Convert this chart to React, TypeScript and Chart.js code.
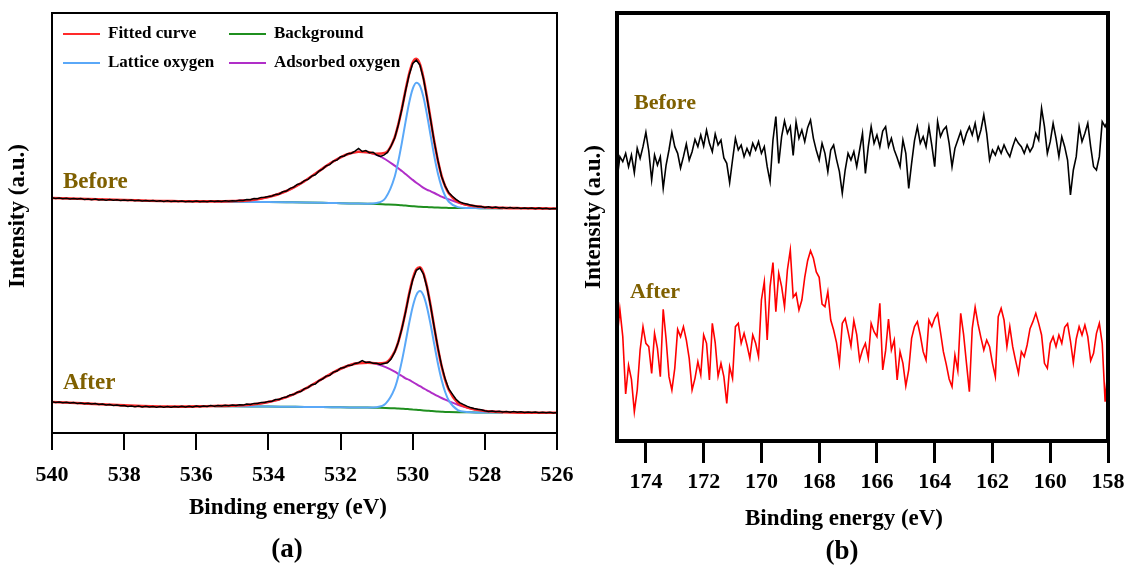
import React, { useEffect, useRef } from "react";
import { Chart, registerables } from "chart.js";

Chart.register(...registerables);

const SERIF = "'Liberation Serif', 'Times New Roman', serif";
const BROWN = "#7f6000";

// ---------- Panel (a): O 1s ----------
const A_TICKS = [540, 538, 536, 534, 532, 530, 528, 526];

const A_DATA_EV = [
  540.0, 539.9, 539.8, 539.7, 539.6, 539.5, 539.4, 539.3, 539.2, 539.1,
  539.0, 538.9, 538.8, 538.7, 538.6, 538.5, 538.4, 538.3, 538.2, 538.1,
  538.0, 537.9, 537.8, 537.7, 537.6, 537.5, 537.4, 537.3, 537.2, 537.1,
  537.0, 536.9, 536.8, 536.7, 536.6, 536.5, 536.4, 536.3, 536.2, 536.1,
  536.0, 535.9, 535.8, 535.7, 535.6, 535.5, 535.4, 535.3, 535.2, 535.1,
  535.0, 534.9, 534.8, 534.7, 534.6, 534.5, 534.4, 534.3, 534.2, 534.1,
  534.0, 533.9, 533.8, 533.7, 533.6, 533.5, 533.4, 533.3, 533.2, 533.1,
  533.0, 532.9, 532.8, 532.7, 532.6, 532.5, 532.4, 532.3, 532.2, 532.1,
  532.0, 531.9, 531.8, 531.7, 531.6, 531.5, 531.4, 531.3, 531.2, 531.1,
  531.0, 530.9, 530.8, 530.7, 530.6, 530.5, 530.4, 530.3, 530.2, 530.1,
  530.0, 529.9, 529.8, 529.7, 529.6, 529.5, 529.4, 529.3, 529.2, 529.1,
  529.0, 528.9, 528.8, 528.7, 528.6, 528.5, 528.4, 528.3, 528.2, 528.1,
  528.0, 527.9, 527.8, 527.7, 527.6, 527.5, 527.4, 527.3, 527.2, 527.1,
  527.0, 526.9, 526.8, 526.7, 526.6, 526.5, 526.4, 526.3, 526.2, 526.1,
  526.0,
];

const A_BEFORE_RAW = [
  235.2, 234.6, 235.1, 234.3, 234.8, 234.0, 234.5, 233.9, 234.4, 233.6,
  234.1, 233.3, 233.9, 233.0, 233.6, 232.8, 233.4, 232.7, 233.2, 232.5,
  233.0, 232.4, 232.9, 232.2, 232.7, 232.0, 232.6, 231.9, 232.4, 231.8,
  232.3, 231.6, 232.2, 231.5, 232.0, 231.4, 231.9, 231.2, 231.8, 231.3,
  231.9, 231.2, 231.8, 231.3, 232.0, 231.4, 232.1, 231.5, 232.2, 231.7,
  232.3, 232.0, 232.8, 232.6, 233.5, 233.2, 234.4, 234.3, 235.6, 235.7,
  236.6, 237.0, 238.6, 239.0, 241.2, 242.0, 244.6, 245.8, 248.5, 249.6,
  252.4, 253.6, 256.9, 258.2, 261.8, 263.9, 267.1, 268.4, 271.9, 273.0,
  276.2, 277.0, 279.3, 279.8, 281.9, 284.6, 281.5, 282.4, 280.3, 280.8,
  278.0, 276.5, 277.9, 280.6, 287.0, 295.0, 308.0, 324.0, 342.0, 358.0,
  369.5, 372.8, 367.9, 354.0, 334.2, 312.4, 290.6, 272.3, 256.5, 246.9,
  240.3, 236.8, 233.6, 231.1, 229.8, 228.9, 228.0, 227.3, 226.6, 226.4,
  225.6, 226.2, 225.3, 225.9, 225.1, 225.6, 224.8, 225.4, 224.7, 225.2,
  224.6, 225.1, 224.4, 225.0, 224.3, 224.9, 224.2, 224.7, 224.1, 224.6,
  224.3,
];

const A_AFTER_RAW = [
  31.2, 30.5, 31.0, 30.2, 30.7, 29.9, 30.4, 29.6, 30.1, 29.3,
  29.8, 29.0, 29.4, 28.5, 29.0, 28.1, 28.4, 27.6, 28.0, 27.2,
  27.5, 26.6, 27.1, 26.3, 26.9, 26.0, 26.7, 25.9, 26.5, 25.8,
  26.4, 25.7, 26.5, 25.8, 26.6, 25.9, 26.7, 26.0, 26.8, 26.1,
  26.9, 26.3, 27.1, 26.5, 27.4, 26.7, 27.6, 26.9, 27.8, 27.2,
  27.9, 27.5, 28.3, 27.9, 28.9, 28.6, 29.6, 29.5, 30.6, 30.5,
  31.6, 31.8, 33.4, 33.6, 35.4, 36.0, 38.1, 38.4, 40.8, 41.5,
  44.4, 45.4, 48.3, 49.0, 52.4, 54.0, 56.9, 57.6, 60.9, 62.0,
  64.8, 65.4, 67.6, 67.7, 69.6, 70.3, 72.4, 70.6, 71.0, 69.7,
  69.8, 68.6, 69.5, 70.2, 74.0, 80.9, 90.8, 104.4, 120.6, 138.3,
  153.2, 162.7, 164.9, 158.8, 145.0, 126.1, 105.0, 84.9, 67.4, 53.9,
  44.0, 38.9, 33.8, 30.4, 28.6, 26.9, 25.4, 24.5, 23.8, 23.2,
  22.3, 21.5, 22.1, 21.2, 21.8, 21.0, 21.6, 20.8, 21.4, 20.7,
  21.2, 20.5, 21.0, 20.4, 20.9, 20.3, 20.8, 20.2, 20.7, 20.1,
  20.5,
];

// energies of the fitted components (peak region)
const A_COMP_EV = [
  535.5, 535.0, 534.5, 534.0, 533.5, 533.0, 532.5, 532.25, 532.0, 531.75,
  531.5, 531.25, 531.0, 530.75, 530.5, 530.4, 530.3, 530.2, 530.1, 530.0,
  529.9, 529.8, 529.7, 529.6, 529.5, 529.4, 529.3, 529.2, 529.1, 529.0,
  528.75, 528.5, 528.25, 528.0, 527.5,
];
// energies of the full fitted envelope
const A_FIT_EV = [
  540.0, 539.5, 539.0, 538.5, 538.0, 537.5, 537.0, 536.5, 536.0,
  535.5, 535.0, 534.5, 534.0, 533.5, 533.0, 532.5, 532.25, 532.0, 531.75,
  531.5, 531.25, 531.0, 530.75, 530.5, 530.4, 530.3, 530.2, 530.1, 530.0,
  529.9, 529.8, 529.7, 529.6, 529.5, 529.4, 529.3, 529.2, 529.1, 529.0,
  528.75, 528.5, 528.25, 528.0, 527.5,
  527.0, 526.5, 526.0,
];

const A_BEFORE_FIT = [
  235.0, 234.5, 234.0, 233.5, 233.0, 232.5, 232.0, 231.8, 231.6,
  231.6, 231.9, 232.9, 235.9, 242.0, 251.9, 264.4, 270.5, 275.7, 279.4,
  281.2, 280.9, 279.2, 280.2, 295.5, 308.5, 324.6, 342.4, 358.9, 370.4,
  374.1, 368.7, 354.6, 334.8, 312.7, 290.9, 272.0, 257.1, 246.7, 239.8,
  231.4, 228.2, 226.7, 225.8, 225.1,
  224.8, 224.6, 224.5,
];
const A_BEFORE_BG = [
  231.5, 231.3, 231.1, 230.9, 230.7, 230.5, 230.2, 230.0, 229.8, 229.6,
  229.4, 229.2, 229.0, 228.6, 228.2, 228.0, 227.7, 227.4, 227.1, 226.8,
  226.5, 226.3, 226.1, 225.9, 225.7, 225.5, 225.4, 225.3, 225.2, 225.1,
  225.0, 224.9, 224.9, 224.8, 224.8,
];
const A_BEFORE_LATTICE = [
  231.5, 231.3, 231.1, 230.9, 230.7, 230.5, 230.2, 230.0, 229.8, 229.6,
  229.4, 229.3, 230.0, 235.3, 256.3, 271.7, 290.4, 310.9, 330.0, 344.1,
  350.3, 347.3, 335.5, 317.5, 296.7, 276.4, 259.2, 246.1, 237.0, 231.3,
  225.9, 225.0, 224.9, 224.8, 224.8,
];
const A_BEFORE_ADSORBED = [
  231.6, 231.9, 232.9, 235.9, 242.0, 251.9, 264.4, 270.5, 275.7, 279.4,
  281.2, 280.8, 278.2, 273.5, 267.4, 264.8, 261.9, 258.9, 256.0, 253.1,
  250.3, 247.7, 245.2, 243.2, 241.7, 240.0, 238.2, 236.3, 234.9, 233.6,
  230.5, 228.1, 226.7, 225.8, 225.1,
];

const A_AFTER_FIT = [
  31.0, 30.2, 29.4, 28.5, 27.6, 26.9, 26.5, 26.4, 26.6,
  27.0, 27.3, 28.3, 30.9, 35.9, 43.9, 54.3, 59.5, 64.2, 67.8,
  69.9, 70.4, 69.5, 70.2, 81.3, 91.2, 104.8, 121.1, 138.9, 153.8,
  163.5, 165.8, 159.4, 145.4, 126.4, 105.1, 84.6, 67.0, 53.2, 43.3,
  30.3, 25.7, 23.4, 22.0, 20.9,
  20.4, 20.3, 20.2,
];
const A_AFTER_BG = [
  26.8, 26.7, 26.6, 26.5, 26.3, 26.1, 25.9, 25.8, 25.7, 25.6,
  25.5, 25.4, 25.2, 25.0, 24.7, 24.5, 24.3, 24.1, 23.8, 23.5,
  23.2, 22.9, 22.6, 22.3, 22.0, 21.7, 21.5, 21.3, 21.1, 21.0,
  20.8, 20.7, 20.6, 20.6, 20.5,
];
const A_AFTER_LATTICE = [
  26.8, 26.7, 26.6, 26.5, 26.3, 26.1, 25.9, 25.8, 25.7, 25.6,
  25.5, 25.4, 25.8, 29.4, 44.6, 56.5, 72.1, 90.5, 109.5, 126.3,
  137.9, 141.9, 137.3, 125.1, 107.7, 88.1, 69.3, 53.3, 41.0, 32.5,
  22.9, 21.0, 20.6, 20.6, 20.5,
];
const A_AFTER_ADSORBED = [
  27.0, 27.3, 28.3, 30.9, 35.9, 43.9, 54.3, 59.5, 64.2, 67.8,
  69.9, 70.4, 68.9, 65.8, 61.4, 59.2, 57.0, 54.7, 53.2, 51.0,
  48.8, 46.8, 44.7, 42.6, 40.7, 38.7, 36.8, 35.0, 33.3, 31.8,
  28.2, 25.4, 23.4, 22.0, 20.9,
];

// ---------- Panel (b): S 2p ----------
const B_TICKS = [174, 172, 170, 168, 166, 164, 162, 160, 158];

const B_EV = [
  175.0, 174.9, 174.8, 174.7, 174.6, 174.5, 174.4, 174.3, 174.2, 174.1,
  174.0, 173.9, 173.8, 173.7, 173.6, 173.5, 173.4, 173.3, 173.2, 173.1,
  173.0, 172.9, 172.8, 172.7, 172.6, 172.5, 172.4, 172.3, 172.2, 172.1,
  172.0, 171.9, 171.8, 171.7, 171.6, 171.5, 171.4, 171.3, 171.2, 171.1,
  171.0, 170.9, 170.8, 170.7, 170.6, 170.5, 170.4, 170.3, 170.2, 170.1,
  170.0, 169.9, 169.8, 169.7, 169.6, 169.5, 169.4, 169.3, 169.2, 169.1,
  169.0, 168.9, 168.8, 168.7, 168.6, 168.5, 168.4, 168.3, 168.2, 168.1,
  168.0, 167.9, 167.8, 167.7, 167.6, 167.5, 167.4, 167.3, 167.2, 167.1,
  167.0, 166.9, 166.8, 166.7, 166.6, 166.5, 166.4, 166.3, 166.2, 166.1,
  166.0, 165.9, 165.8, 165.7, 165.6, 165.5, 165.4, 165.3, 165.2, 165.1,
  165.0, 164.9, 164.8, 164.7, 164.6, 164.5, 164.4, 164.3, 164.2, 164.1,
  164.0, 163.9, 163.8, 163.7, 163.6, 163.5, 163.4, 163.3, 163.2, 163.1,
  163.0, 162.9, 162.8, 162.7, 162.6, 162.5, 162.4, 162.3, 162.2, 162.1,
  162.0, 161.9, 161.8, 161.7, 161.6, 161.5, 161.4, 161.3, 161.2, 161.1,
  161.0, 160.9, 160.8, 160.7, 160.6, 160.5, 160.4, 160.3, 160.2, 160.1,
  160.0, 159.9, 159.8, 159.7, 159.6, 159.5, 159.4, 159.3, 159.2, 159.1,
  159.0, 158.9, 158.8, 158.7, 158.6, 158.5, 158.4, 158.3, 158.2, 158.1,
  158.0,
];

const B_BEFORE = [
  960, 1030, 1015, 1040, 1000, 1035, 982, 1055, 1025, 1060,
  1103, 1047, 960, 1035, 1005, 1030, 935, 1005, 1050, 1103,
  1060, 1040, 996, 1030, 1068, 1020, 1045, 1082, 1060, 1095,
  1062, 1109, 1070, 1045, 1098, 1065, 1080, 1026, 1010, 952,
  1020, 1085, 1050, 1065, 1030, 1055, 1035, 1070, 1050, 1075,
  1040, 1060, 1000, 955, 1080, 1150, 1010, 1090, 1137, 1100,
  1120, 1034, 1134, 1085, 1110, 1075, 1117, 1140, 1085, 1049,
  1020, 1070, 1040, 985, 1050, 1065, 1022, 985, 920, 990,
  1040, 1020, 1045, 1000, 1050, 1100, 980, 1060, 1120, 1070,
  1095, 1060, 1107, 1120, 1060, 1085, 1050, 1027, 1000, 1080,
  1040, 935, 1010, 1078, 1120, 1070, 1090, 1060, 1120, 1064,
  1000, 1135, 1090, 1110, 1120, 1070, 1000, 1055, 1080, 1105,
  1070, 1100, 1120, 1095, 1130, 1080, 1110, 1155, 1100, 1020,
  1050, 1035, 1060, 1040, 1065, 1045, 1030, 1060, 1085, 1070,
  1060, 1040, 1065, 1045, 1060, 1100, 1080, 1175, 1120, 1040,
  1075, 1130, 1085, 1030, 1090, 1060, 1020, 915, 990, 1030,
  1120, 1075, 1100, 1130, 1060, 1000, 990, 1030, 1135, 1120,
  1140,
];

const B_AFTER = [
  485, 572, 490, 318, 404, 362, 265, 330, 450, 520,
  470, 460, 380, 500, 455, 370, 572, 483, 370, 330,
  395, 512, 490, 520, 480, 425, 330, 365, 415, 375,
  495, 470, 360, 530, 472, 371, 410, 370, 290, 400,
  365, 520, 530, 470, 500, 465, 425, 495, 470, 430,
  600, 655, 480, 640, 712, 565, 680, 640, 580, 690,
  750, 608, 620, 570, 600, 668, 718, 748, 725, 684,
  668, 588, 580, 625, 540, 510, 472, 410, 530, 545,
  505, 462, 538, 496, 420, 450, 470, 425, 530, 505,
  490, 590, 390, 448, 543, 450, 480, 360, 445, 410,
  342, 390, 485, 520, 535, 495, 445, 420, 540, 520,
  545, 560, 504, 445, 407, 363, 340, 435, 388, 560,
  497, 410, 325, 515, 578, 528, 487, 450, 480, 460,
  410, 370, 550, 575, 540, 460, 520, 460, 418, 380,
  445, 430, 465, 514, 535, 560, 530, 495, 410, 395,
  470, 490, 460, 495, 470, 518, 529, 477, 412, 483,
  520, 495, 525, 490, 418, 440, 500, 530, 470, 295,
  400,
];

const LEGEND_A = [
  { text: "Fitted curve", color: "#ff2a2a" },
  { text: "Background", color: "#1f8f1f" },
  { text: "Lattice oxygen", color: "#5aa8f8" },
  { text: "Adsorbed oxygen", color: "#b02ec8" },
];

function pts(xs: number[], ys: number[]) {
  return xs.map((x, i) => ({ x, y: ys[i] }));
}

function txt(
  ctx: CanvasRenderingContext2D,
  s: string,
  x: number,
  y: number,
  size: number,
  color = "#000",
  align: CanvasTextAlign = "left",
  rot = 0
) {
  ctx.save();
  ctx.translate(x, y);
  if (rot) ctx.rotate(rot);
  ctx.font = `bold ${size}px ${SERIF}`;
  ctx.fillStyle = color;
  ctx.textAlign = align;
  ctx.textBaseline = "middle";
  ctx.fillText(s, 0, 0);
  ctx.restore();
}

const panelAPlugin = {
  id: "panelADecor",
  afterDraw(chart: any) {
    const ctx: CanvasRenderingContext2D = chart.ctx;
    const ca = chart.chartArea;
    ctx.save();
    ctx.strokeStyle = "#000";
    ctx.lineWidth = 2;
    ctx.strokeRect(ca.left, ca.top, ca.right - ca.left, ca.bottom - ca.top);
    // legend (2 x 2)
    const cols = [ca.left + 11, ca.left + 177];
    const rows = [ca.top + 21, ca.top + 50];
    LEGEND_A.forEach((it, i) => {
      const cx = cols[i % 2];
      const cy = rows[Math.floor(i / 2)];
      ctx.beginPath();
      ctx.strokeStyle = it.color;
      ctx.lineWidth = 2.2;
      ctx.moveTo(cx, cy);
      ctx.lineTo(cx + 37, cy);
      ctx.stroke();
      txt(ctx, it.text, cx + 45, cy, 17);
    });
    ctx.restore();
    txt(ctx, "Before", 63, 182, 23, BROWN);
    txt(ctx, "After", 63, 383, 23, BROWN);
    txt(ctx, "Binding energy (eV)", 288, 508, 23, "#000", "center");
    txt(ctx, "(a)", 287, 550, 27, "#000", "center");
    txt(ctx, "Intensity (a.u.)", 18, 216, 23, "#000", "center", -Math.PI / 2);
  },
};

const panelBPlugin = {
  id: "panelBDecor",
  afterDraw(chart: any) {
    const ctx: CanvasRenderingContext2D = chart.ctx;
    const ca = chart.chartArea;
    ctx.save();
    ctx.strokeStyle = "#000";
    ctx.lineWidth = 4;
    ctx.strokeRect(ca.left, ca.top, ca.right - ca.left, ca.bottom - ca.top);
    ctx.restore();
    txt(ctx, "Before", 54, 103, 22, BROWN);
    txt(ctx, "After", 50, 292, 22, BROWN);
    txt(ctx, "Binding energy (eV)", 264, 519, 23, "#000", "center");
    txt(ctx, "(b)", 262, 552, 27, "#000", "center");
    txt(ctx, "Intensity (a.u.)", 14, 217, 23, "#000", "center", -Math.PI / 2);
  },
};

function xAxis(min: number, max: number, ticks: number[], height: number, tickLen: number, tickW: number, pad: number) {
  return {
    type: "linear",
    reverse: true,
    min,
    max,
    position: "bottom",
    afterBuildTicks: (s: any) => {
      s.ticks = ticks.map((v) => ({ value: v }));
    },
    afterFit: (s: any) => {
      s.height = height;
      s.paddingLeft = 0;
      s.paddingRight = 0;
    },
    grid: {
      display: true,
      drawOnChartArea: false,
      drawTicks: true,
      tickLength: tickLen,
      lineWidth: tickW,
      color: "#000",
    },
    border: { display: false },
    ticks: {
      color: "#000",
      font: { family: SERIF, size: 22, weight: "bold" },
      padding: pad,
      maxRotation: 0,
      autoSkip: false,
    },
  };
}

export default function App() {
  const refA = useRef<HTMLCanvasElement>(null);
  const refB = useRef<HTMLCanvasElement>(null);

  useEffect(() => {
    const line = (data: any[], color: string, width: number, order: number, smooth: boolean) => ({
      data,
      borderColor: color,
      backgroundColor: color,
      borderWidth: width,
      pointRadius: 0,
      fill: false,
      order,
      tension: 0,
      cubicInterpolationMode: smooth ? "monotone" : "default",
    });

    const chartA = new Chart(refA.current as HTMLCanvasElement, {
      type: "line",
      data: {
        datasets: [
          line(pts(A_DATA_EV, A_BEFORE_RAW), "#000000", 1.5, 0, false),
          line(pts(A_DATA_EV, A_AFTER_RAW), "#000000", 1.5, 0, false),
          line(pts(A_FIT_EV, A_BEFORE_FIT), LEGEND_A[0].color, 2.6, 1, true),
          line(pts(A_FIT_EV, A_AFTER_FIT), LEGEND_A[0].color, 2.6, 1, true),
          line(pts(A_COMP_EV, A_BEFORE_LATTICE), LEGEND_A[2].color, 2, 2, true),
          line(pts(A_COMP_EV, A_AFTER_LATTICE), LEGEND_A[2].color, 2, 2, true),
          line(pts(A_COMP_EV, A_BEFORE_ADSORBED), LEGEND_A[3].color, 2, 3, true),
          line(pts(A_COMP_EV, A_AFTER_ADSORBED), LEGEND_A[3].color, 2, 3, true),
          line(pts(A_COMP_EV, A_BEFORE_BG), LEGEND_A[1].color, 2, 4, true),
          line(pts(A_COMP_EV, A_AFTER_BG), LEGEND_A[1].color, 2, 4, true),
        ] as any,
      },
      options: {
        animation: false,
        responsive: false,
        events: [],
        layout: { padding: { left: 52, right: 23, top: 13, bottom: 0 } },
        plugins: { legend: { display: false }, tooltip: { enabled: false } },
        scales: {
          x: xAxis(526, 540, A_TICKS, 137, 17, 2, 12) as any,
          y: { display: false, min: 0, max: 420 },
        },
      },
      plugins: [panelAPlugin],
    });

    const chartB = new Chart(refB.current as HTMLCanvasElement, {
      type: "line",
      data: {
        datasets: [
          line(pts(B_EV, B_BEFORE), "#000000", 1.6, 0, false),
          line(pts(B_EV, B_AFTER), "#ff0000", 1.6, 1, false),
        ] as any,
      },
      options: {
        animation: false,
        responsive: false,
        events: [],
        layout: { padding: { left: 37, right: 21, top: 13, bottom: 0 } },
        plugins: { legend: { display: false }, tooltip: { enabled: false } },
        scales: {
          x: xAxis(158, 175, B_TICKS, 129, 22, 3, 6) as any,
          y: { display: false, min: 177, max: 1461 },
        },
      },
      plugins: [panelBPlugin],
    });

    return () => {
      chartA.destroy();
      chartB.destroy();
    };
  }, []);

  return (
    <div style={{ position: "absolute", left: 0, top: 0, width: 1129, height: 570, background: "#fff" }}>
      <canvas
        ref={refA}
        width={580}
        height={570}
        style={{ position: "absolute", left: 0, top: 0, width: 580, height: 570 }}
      />
      <canvas
        ref={refB}
        width={549}
        height={570}
        style={{ position: "absolute", left: 580, top: 0, width: 549, height: 570 }}
      />
    </div>
  );
}
